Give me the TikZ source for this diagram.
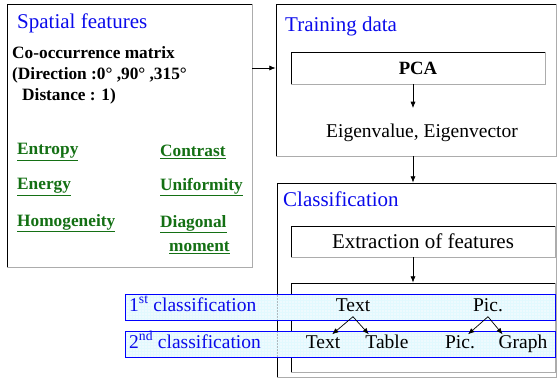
\documentclass[tikz,border=0pt]{standalone}
\usepackage{fontspec}
\setmainfont{LiberationSerif}[Extension=.ttf, UprightFont=*-Regular, BoldFont=*-Bold, ItalicFont=*-Italic, BoldItalicFont=*-BoldItalic]
\usetikzlibrary{arrows.meta,calc,patterns}
\definecolor{featgreen}{RGB}{20,112,20}
\definecolor{titleblue}{RGB}{10,10,235}

\begin{document}
\begin{tikzpicture}[x=1pt, y=-1pt,
        box/.style={draw, line width=0.9pt, inner sep=0pt},
        rim/.style={draw=gray!65, line width=1.4pt},
        arr/.style={-{Latex[length=2.2mm,width=1.8mm]}, line width=0.7pt},
        title/.style={text=titleblue, font=\fontsize{21}{24}\selectfont, anchor=west, inner sep=0pt},
        feat/.style={text=featgreen, font=\fontsize{17.3}{21}\selectfont\bfseries, anchor=west, inner sep=0pt},
        word/.style={font=\fontsize{19.5}{22}\selectfont, inner sep=1pt, text height=13pt, text depth=4pt},
        band/.style={draw=blue, line width=0.9pt, fill=cyan!9, fill opacity=0.75, minimum width=430pt, minimum height=26pt, inner sep=0pt},
    ]
    \useasboundingbox (0,0) rectangle (557,378);

    % left box
    \node[box, minimum width=245pt, minimum height=263pt] (spatial) at (129.5,135.5) {};
    \draw[rim] (spatial.north east) -- (spatial.south east) -- (spatial.south west);
    \node[title] (spatialt) at (17,23) {Spatial features};
    \node[font=\fontsize{17.3}{21}\selectfont\bfseries, align=left, anchor=north west, inner sep=0pt] (cooc) at (12,46)
        {Co-occurrence matrix\\(Direction :0° ,90° ,315°\\\hspace{10pt}Distance : 1)};
    \node[feat] (entropy) at (17,152) {\underline{Entropy}};
    \node[feat] (energy) at (17,187) {\underline{Energy}};
    \node[feat] (homog) at (17,223) {\underline{Homogeneity}};
    \node[feat] (contrast) at (160,152) {\underline{Contrast}};
    \node[feat] (unif) at (160,187) {\underline{Uniformity}};
    \node[feat] (diag) at (160,224) {\underline{Diagonal}};
    \node[feat] (moment) at (169,248) {\underline{moment}};

    % training box
    \node[box, minimum width=280pt, minimum height=152pt] (training) at (416,80) {};
    \draw[rim] (training.north east) -- (training.south east) -- (training.south west);
    \node[title] (trainingt) at (285,26) {Training data};
    \node[box, minimum width=254pt, minimum height=32pt, font=\fontsize{18.7}{22}\selectfont\bfseries] (pca) at (418,68) {PCA};
    \draw[rim] (pca.north east) -- (pca.south east) -- (pca.south west);
    \node[word] (eigen) at (422,133) {Eigenvalue, Eigenvector};
    \coordinate (eigtop) at (413,108);

    % classification box
    \node[box, minimum width=279pt, minimum height=194pt] (classif) at (416.5,280) {};
    \draw[rim] (classif.north east) -- (classif.south east) -- (classif.south west);
    \node[title] (classift) at (283,199) {Classification};
    \node[box, minimum width=264pt, minimum height=31pt, font=\fontsize{21}{24}\selectfont] (extract) at (423,241.5) {Extraction of features};
    \draw[rim] (extract.north east) -- (extract.south east) -- (extract.south west);
    \node[box, minimum width=264pt, minimum height=89pt] (result) at (423,327.5) {};
    \draw[rim] (result.north east) -- (result.south east) -- (result.south west);

    % bands
    \path[pattern=grid, pattern color=cyan!18] (125,294) rectangle (555,320);
    \path[pattern=grid, pattern color=cyan!18] (125,331) rectangle (555,357);
    \node[band] (band1) at (340,307) {};
    \node[band] (band2) at (340,344) {};
    \node[word, text=titleblue, anchor=west] (lab1) at (128,307) {1\textsuperscript{st} classification};
    \node[word, text=titleblue, anchor=west] (lab2) at (128,344) {2\textsuperscript{nd} classification};

    \node[word] (t1) at (353,307) {Text};
    \node[word] (p1) at (488,307) {Pic.};
    \node[word] (t2) at (323,344) {Text};
    \node[word] (tb) at (387,344) {Table};
    \node[word] (p2) at (460,344) {Pic.};
    \node[word] (g2) at (523,344) {Graph};

    % connectors
    \draw[arr] (spatial.east |- pca) -- (training.west |- pca);
    \draw[arr] (pca.south -| eigtop) -- (eigtop);
    \draw[arr] (training.south -| eigtop) -- (classif.north -| eigtop);
    \draw[arr] (extract.south -| eigtop) -- (result.north -| eigtop);
    \draw[arr] (t1.south) -- ($(t2.north)!0.5!(t2.north east)$);
    \draw[arr] (t1.south) -- ($(tb.north west)!0.2!(tb.north)$);
    \draw[arr] (p1.south) -- ($(p2.north)!0.5!(p2.north east)$);
    \draw[arr] (p1.south) -- ($(g2.north west)!0.2!(g2.north)$);
\end{tikzpicture}
\end{document}
